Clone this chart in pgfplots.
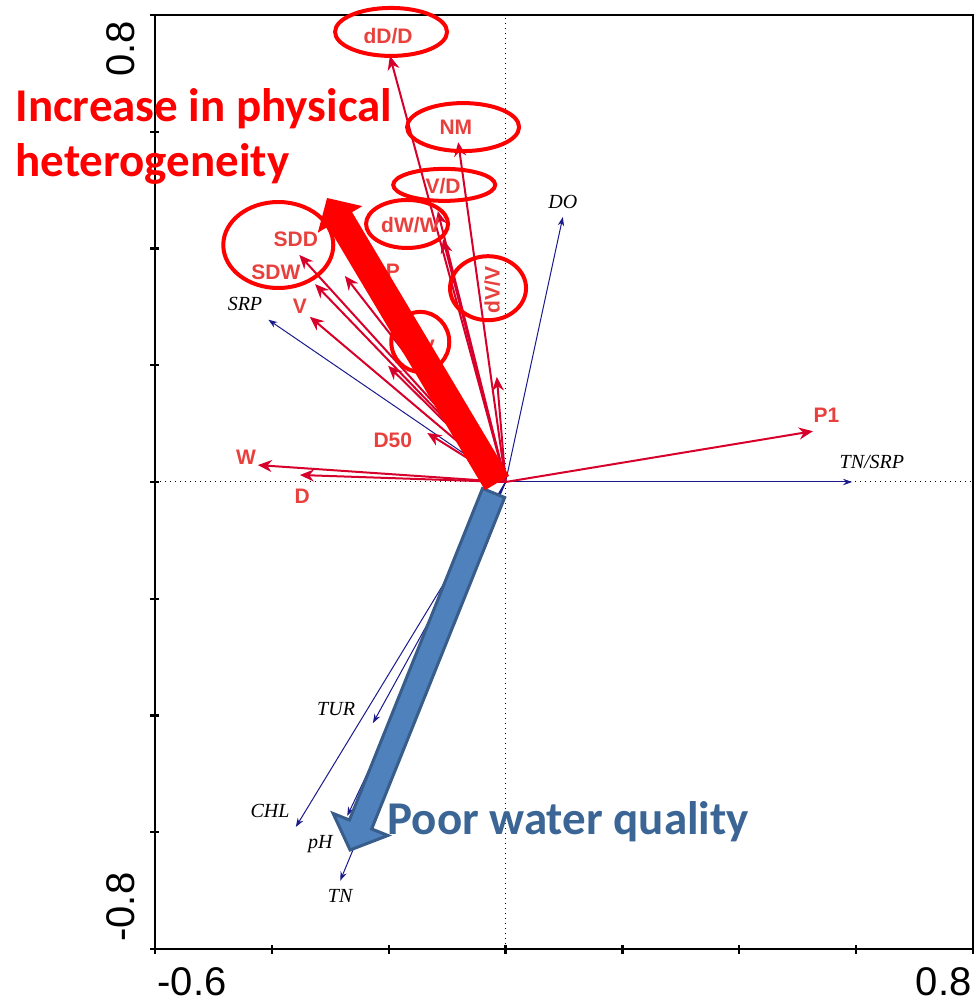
\documentclass[border=0pt]{standalone}
\usepackage{fontspec}
\setmainfont{Liberation Sans}
\newfontfamily\calibri{Carlito}
\newfontfamily\tnr{Liberation Serif}
\usepackage{pgfplots}
\pgfplotsset{compat=1.18}
\usepackage{pgfplotstable}
\usetikzlibrary{arrows.meta}

\definecolor{arrowred}{HTML}{D7002A}
\definecolor{labred}{HTML}{E8403C}
\definecolor{navyline}{HTML}{1A1A8C}
\definecolor{blfill}{HTML}{4F81BD}
\definecolor{bldraw}{HTML}{385D8A}
\definecolor{bltext}{HTML}{3A6595}

% species / response vectors (red)
\pgfplotstableread{
x y u v
0 0 -0.198 0.730
0 0 -0.081 0.582
0 0 -0.116 0.464
0 0 -0.107 0.416
0 0 -0.015 0.180
0 0 -0.353 0.389
0 0 -0.326 0.339
0 0 -0.275 0.353
0 0 -0.335 0.283
0 0 -0.201 0.199
0 0 -0.134 0.084
0 0 -0.424 0.029
0 0 -0.352 0.012
0 0 0.526 0.087
}\redvec

% environmental vectors (blue)
\pgfplotstableread{
x y u v
0 0 0.098 0.454
0 0 0.593 0.000
0 0 -0.406 0.278
0 0 -0.227 -0.413
0 0 -0.359 -0.591
0 0 -0.271 -0.572
0 0 -0.283 -0.683
}\bluevec

\begin{document}
\begin{tikzpicture}
\begin{axis}[
    at={(0,0)}, anchor=south west,
    scale only axis, width=409pt, height=467pt,
    xmin=-0.6, xmax=0.8, ymin=-0.8, ymax=0.8,
    xtick={-0.6,-0.4,-0.2,0,0.2,0.4,0.6,0.8},
    ytick={-0.8,-0.6,-0.4,-0.2,0,0.2,0.4,0.6,0.8},
    xticklabels={}, yticklabels={},
    tick pos=left, tick align=center, major tick length=4.5pt,
    axis line style={line width=1.3pt},
    every tick/.style={black, line width=1.2pt},
    clip=false,
]
% zero lines
\draw[dotted, line width=0.5pt] (axis cs:-0.6,0) -- (axis cs:0.8,0);
\draw[dotted, line width=0.5pt] (axis cs:0,-0.8) -- (axis cs:0,0.8);

\addplot[navyline, line width=0.5pt, -{Stealth[length=4.5pt,width=3.2pt]},
    quiver={u=\thisrow{u}, v=\thisrow{v}}] table {\bluevec};
\addplot[arrowred, line width=1pt, -{Stealth[length=7pt,width=6pt]},
    quiver={u=\thisrow{u}, v=\thisrow{v}}] table {\redvec};

% red labels
\begin{scope}[every node/.style={text=labred, font=\bfseries\fontsize{10.5}{10.5}\selectfont, inner sep=0pt}]
\node at (axis cs:-0.201,0.764) {dD/D};
\node at (axis cs:-0.085,0.608) {NM};
\node at (axis cs:-0.107,0.507) {V/D};
\node at (axis cs:-0.163,0.440) {dW/W};
\node[rotate=90] at (axis cs:-0.023,0.329) {dV/V};
\node at (axis cs:-0.359,0.416) {SDD};
\node at (axis cs:-0.393,0.360) {SDW};
\node at (axis cs:-0.193,0.361) {P};
\node at (axis cs:-0.352,0.301) {V};
\node at (axis cs:-0.150,0.231) {S/V};
\node at (axis cs:-0.193,0.072) {D50};
\node at (axis cs:-0.444,0.043) {W};
\node at (axis cs:-0.348,-0.024) {D};
\node at (axis cs:0.549,0.115) {P1};
\end{scope}

% blue labels
\begin{scope}[every node/.style={text=black, font=\tnr\itshape\fontsize{10}{10}\selectfont, inner sep=0pt}]
\node at (axis cs:0.098,0.480) {DO};
\node at (axis cs:0.627,0.034) {TN/SRP};
\node at (axis cs:-0.446,0.305) {SRP};
\node at (axis cs:-0.290,-0.389) {TUR};
\node at (axis cs:-0.403,-0.564) {CHL};
\node at (axis cs:-0.317,-0.620) {pH};
\node at (axis cs:-0.283,-0.709) {TN};
\end{scope}

% big blue arrow
\addplot[fill=blfill, draw=bldraw, line width=1.5pt, line join=miter] coordinates {
(-0.0395,-0.0111) (-0.2672,-0.5790) (-0.2951,-0.5679) (-0.2661,-0.6304)
(-0.2013,-0.6055) (-0.2292,-0.5944) (-0.0015,-0.0266)} -- cycle;

% big red arrow
\addplot[fill=red, draw=none] coordinates {
(-0.0351,-0.0140) (-0.3038,0.4375) (-0.3214,0.4271) (-0.3055,0.4865)
(-0.2451,0.4726) (-0.2627,0.4622) (0.0060,0.0106)} -- cycle;

% ellipses
\begin{scope}[red, line width=2pt]
\draw (axis cs:-0.196,0.771) ellipse [x radius=28pt, y radius=12pt];
\draw (axis cs:-0.0727,0.608) ellipse [x radius=28pt, y radius=12pt];
\draw (axis cs:-0.105,0.509) ellipse [x radius=25.5pt, y radius=8pt];
\draw (axis cs:-0.1686,0.442) ellipse [x radius=20.5pt, y radius=12pt];
\draw (axis cs:-0.389,0.406) ellipse [x radius=27.5pt, y radius=21.5pt];
\draw (axis cs:-0.030,0.332) ellipse [x radius=19pt, y radius=16pt];
\draw (axis cs:-0.146,0.240) ellipse [x radius=14.5pt, y radius=15pt];
\end{scope}

% annotations
\node[anchor=base west, inner sep=0pt, text=red, font=\calibri\bfseries\fontsize{23.5}{23.5}\selectfont]
    at (axis cs:-0.8395,0.6184) {Increase in physical};
\node[anchor=base west, inner sep=0pt, text=red, font=\calibri\bfseries\fontsize{23.5}{23.5}\selectfont]
    at (axis cs:-0.8395,0.5225) {heterogeneity};
\node[anchor=base west, inner sep=0pt, text=bltext, font=\calibri\bfseries\fontsize{23.5}{23.5}\selectfont]
    at (axis cs:-0.2028,-0.603) {Poor water quality};

% tick labels at the ends only
\begin{scope}[every node/.style={inner sep=0pt, font=\fontsize{20}{20}\selectfont}]
\node[rotate=90, anchor=south east] at (axis cs:-0.634,0.790) {0.8};
\node[rotate=90, anchor=south west] at (axis cs:-0.634,-0.788) {-0.8};
\node[anchor=north west] at (axis cs:-0.5965,-0.831) {-0.6};
\node[anchor=north east] at (axis cs:0.798,-0.831) {0.8};
\end{scope}
\end{axis}
\pgfresetboundingbox
\path[use as bounding box] (-77.5pt,-28pt) rectangle (410pt,474.5pt);
\end{tikzpicture}
\end{document}
